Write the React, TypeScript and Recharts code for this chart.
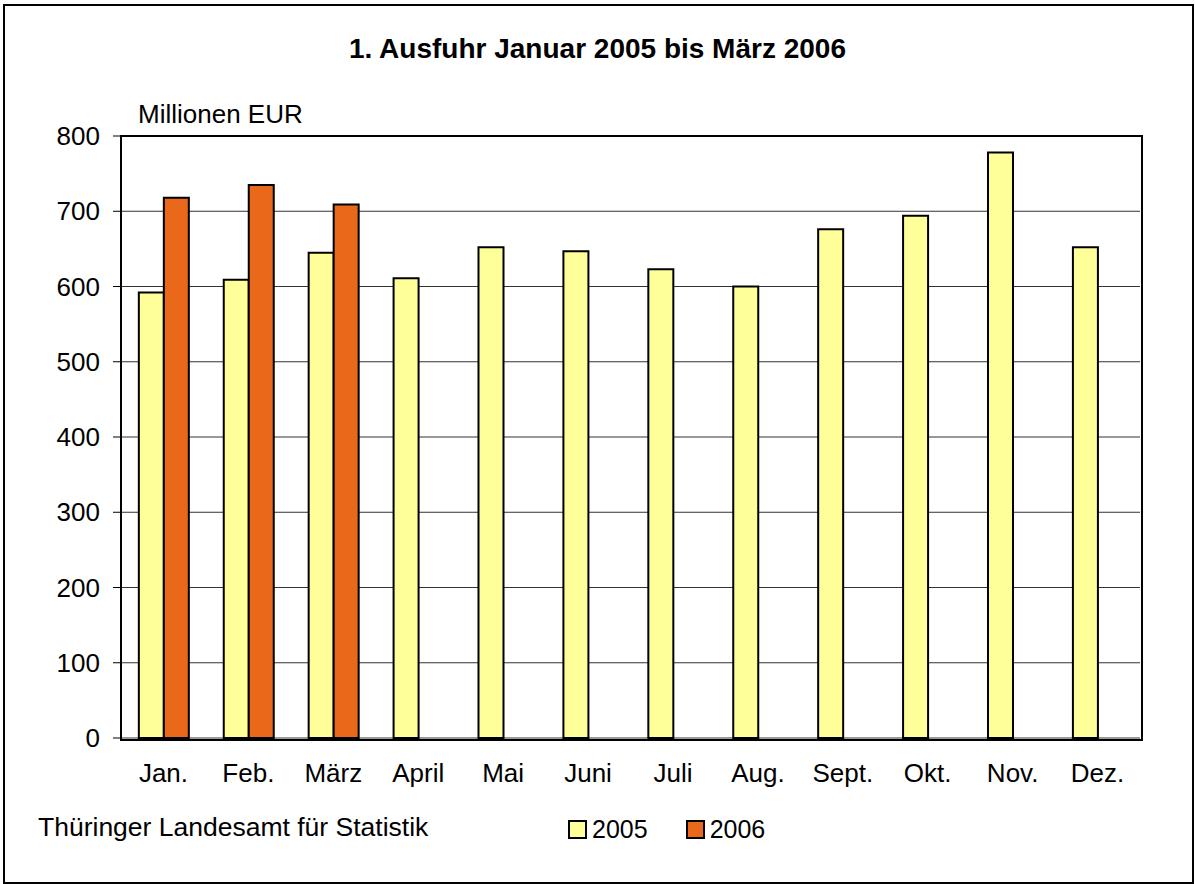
import React from "react";
import { BarChart, Bar, XAxis, YAxis, CartesianGrid } from "recharts";

const months = ["Jan.", "Feb.", "März", "April", "Mai", "Juni", "Juli", "Aug.", "Sept.", "Okt.", "Nov.", "Dez."];
const values2005 = [592, 609, 645, 611, 652, 647, 623, 600, 676, 694, 778, 652];
const values2006: (number | null)[] = [718, 735, 709, null, null, null, null, null, null, null, null, null];
const yTicks = [0, 100, 200, 300, 400, 500, 600, 700, 800];
const seriesNames = ["2005", "2006"];

const data = months.map((m, i) => ({ month: m, y2005: values2005[i], y2006: values2006[i] }));

const FONT = "'Liberation Sans', Arial, sans-serif";
const YELLOW = "#FFFF99";
const ORANGE = "#E9681A";

const PLOT = { left: 121, top: 136, right: 1140, bottom: 738 };

export default function App() {
  return (
    <div style={{ position: "absolute", left: 0, top: 0, width: 1195, height: 884, background: "#fff" }}>
      <div style={{ position: "absolute", left: 3, top: 4, width: 1187, height: 876, border: "2px solid #000", boxSizing: "content-box" }} />
      <div style={{ position: "absolute", left: 0, top: 33, width: 1195, textAlign: "center", fontFamily: FONT, fontWeight: "bold", fontSize: 28, color: "#000" }}>
        1. Ausfuhr Januar 2005 bis März 2006
      </div>
      <div style={{ position: "absolute", left: 138, top: 99, fontFamily: FONT, fontSize: 26, color: "#000" }}>
        Millionen EUR
      </div>
      <div style={{ position: "absolute", left: 38, top: 812, fontFamily: FONT, fontSize: 26.5, color: "#000" }}>
        Thüringer Landesamt für Statistik
      </div>
      <div style={{ position: "absolute", left: 568, top: 815, display: "flex", alignItems: "center", fontFamily: FONT, fontSize: 25, color: "#000" }}>
        <span style={{ width: 15, height: 15, background: YELLOW, border: "2px solid #000", display: "inline-block", marginRight: 5 }} />
        <span style={{ marginRight: 38 }}>{seriesNames[0]}</span>
        <span style={{ width: 15, height: 15, background: ORANGE, border: "2px solid #000", display: "inline-block", marginRight: 5 }} />
        <span>{seriesNames[1]}</span>
      </div>
      <BarChart
        width={1195}
        height={884}
        data={data}
        margin={{ top: PLOT.top, right: 1195 - PLOT.right, bottom: 106, left: PLOT.left - 60 }}
        barCategoryGap="21%"
        barGap={0}
        style={{ position: "absolute", left: 0, top: 0 }}
      >
        <CartesianGrid horizontal vertical={false} stroke="#333" strokeWidth={1} />
        <XAxis
          dataKey="month"
          tickLine={false}
          tickSize={8}
          tickMargin={18}
          height={40}
          axisLine={false}
          tick={{ fill: "#000", fontSize: 26, fontFamily: FONT }}
          interval={0}
        />
        <YAxis
          domain={[0, 800]}
          ticks={yTicks}
          width={60}
          tickSize={8}
          tickMargin={13}
          interval={0}
          axisLine={false}
          tickLine={{ stroke: "#000", strokeWidth: 1 }}
          tick={{ fill: "#000", fontSize: 26, fontFamily: FONT }}
        />
        <Bar dataKey="y2005" name={seriesNames[0]} fill={YELLOW} stroke="#000" strokeWidth={2} isAnimationActive={false} />
        <Bar dataKey="y2006" name={seriesNames[1]} fill={ORANGE} stroke="#000" strokeWidth={2} isAnimationActive={false} />
      </BarChart>
      <div
        style={{
          position: "absolute",
          left: PLOT.left - 1,
          top: PLOT.top - 1,
          width: PLOT.right - PLOT.left,
          height: PLOT.bottom - PLOT.top,
          border: "2px solid #000",
          boxSizing: "content-box",
          pointerEvents: "none",
        }}
      />
    </div>
  );
}
